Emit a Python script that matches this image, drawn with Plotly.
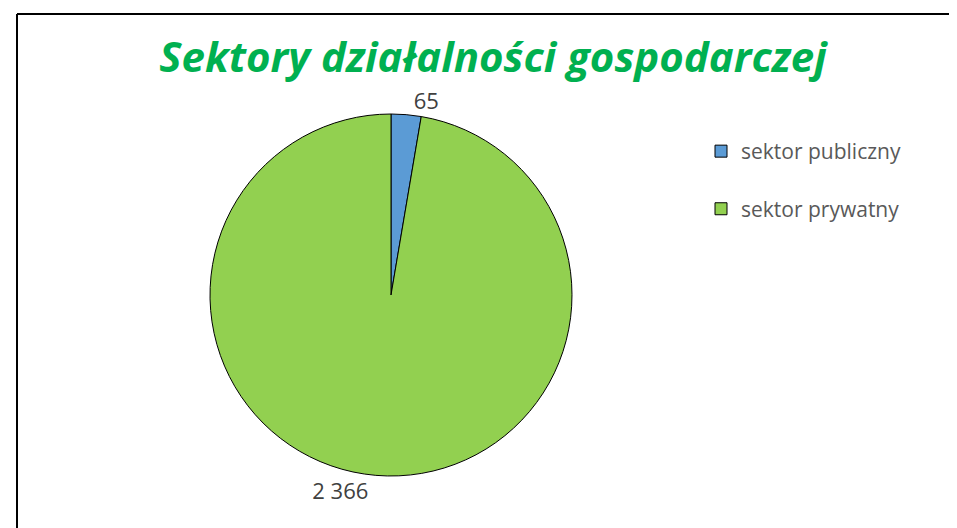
import plotly.graph_objects as go

labels = ["sektor publiczny", "sektor prywatny"]
values = [65, 2366]
colors = ["#5B9BD5", "#92D050"]
title_text = "Sektory działalności gospodarczej"

W, H = 957, 528
cx, cy, r = 383, 287, 181

fig = go.Figure(go.Pie(
    labels=[l + "<br> " for l in labels],
    values=values,
    sort=False,
    direction="clockwise",
    rotation=0,
    marker=dict(colors=colors, line=dict(color="black", width=1)),
    textposition="outside",
    texttemplate="%{value:,}",
    textfont=dict(family="Open Sans", size=22, color="#404040"),
    domain=dict(x=[(cx - r) / W, (cx + r) / W], y=[1 - (cy + r) / H, 1 - (cy - r) / H]),
    hoverinfo="label+value",
))

fig.update_layout(
    width=W, height=H,
    margin=dict(l=0, r=0, t=0, b=0),
    paper_bgcolor="white",
    separators=", ",
    title=dict(text="<b><i>" + title_text + "</i></b>", x=485 / W, xanchor="center",
               y=1 - 49 / H, yanchor="middle",
               font=dict(family="Open Sans", size=42, color="#00B050")),
    showlegend=True,
    legend=dict(x=693 / W, y=1 - 123 / H, xanchor="left", yanchor="top",
                valign="top",
                font=dict(family="Open Sans", size=21, color="#595959"),
                bgcolor="rgba(0,0,0,0)"),
    shapes=[
        dict(type="line", xref="paper", yref="paper", x0=9 / W, x1=1, y0=1 - 6 / H, y1=1 - 6 / H,
             line=dict(color="black", width=2)),
        dict(type="line", xref="paper", yref="paper", x0=9 / W, x1=9 / W, y0=0, y1=1 - 6 / H,
             line=dict(color="black", width=2)),
    ],
)

fig.write_html("out.html")
